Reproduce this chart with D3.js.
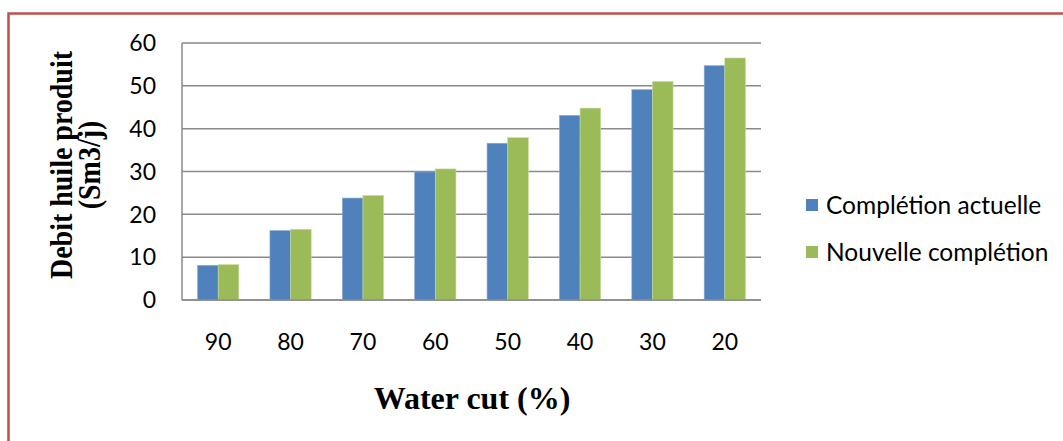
<!DOCTYPE html>
<html>
<head>
<meta charset="utf-8">
<script src="https://cdn.jsdelivr.net/npm/d3@7"></script>
<style>
  body { margin: 0; background: #fff; }
  svg { display: block; }
  .tick-label { font-family: Lato, "Open Sans", sans-serif; fill: #000; }
  .axis-title { font-family: "Liberation Serif", "Times New Roman", serif; font-weight: bold; fill: #000; }
</style>
</head>
<body>
<svg id="chart"></svg>
<script>
//Chart Data
const categories = ["90", "80", "70", "60", "50", "40", "30", "20"];
const seriesNames = ["Complétion actuelle", "Nouvelle complétion"];
const actuelle = [8.1, 16.2, 23.8, 29.9, 36.6, 43.1, 49.1, 54.7];
const nouvelle = [8.25, 16.5, 24.4, 30.6, 37.9, 44.8, 51.0, 56.5];
const yTicks = [0, 10, 20, 30, 40, 50, 60];
const yTitleLines = ["Debit huile produit", "(Sm3/j)"];

drawChart();

function drawChart(){
  const w = 1063;
  const h = 441;
  const left = 182, right = 761, top = 43, bottom = 300;
  const colors = ["#4f81bd", "#9bbb59"];

  const chart = d3.select("#chart")
    .attr("width", w)
    .attr("height", h);

  //Frame border
  chart.append("rect")
    .attr("x", 8.5).attr("y", 13.5)
    .attr("width", w + 20).attr("height", h + 20)
    .attr("fill", "none")
    .attr("stroke", "#c0504d")
    .attr("stroke-width", 2.5);

  //Scales
  const xScale = d3.scaleBand()
    .domain(categories)
    .range([left, right])
    .paddingInner(0.43)
    .paddingOuter(0.215);
  const xSub = d3.scaleBand()
    .domain([0, 1])
    .range([0, xScale.bandwidth()]);
  const yScale = d3.scaleLinear()
    .domain([0, 60])
    .range([bottom, top]);

  //Gridlines
  chart.append("g")
    .selectAll("line")
    .data(yTicks)
    .enter()
    .append("line")
    .attr("x1", left).attr("x2", right)
    .attr("y1", d => yScale(d)).attr("y2", d => yScale(d))
    .attr("stroke", "#8a8a8a")
    .attr("stroke-width", 1.5);

  //Bars
  const series = [actuelle, nouvelle];
  series.forEach((vals, s) => {
    chart.append("g")
      .selectAll("rect")
      .data(vals)
      .enter()
      .append("rect")
      .attr("x", (d, i) => xScale(categories[i]) + xSub(s))
      .attr("y", d => yScale(d))
      .attr("width", xSub.bandwidth())
      .attr("height", d => yScale(0) - yScale(d))
      .attr("fill", colors[s])
      .attr("stroke", s === 0 ? "#8eaad6" : "#c6db9c")
      .attr("stroke-width", 0.6);
  });

  //Axis lines
  chart.append("line")
    .attr("x1", left).attr("x2", left)
    .attr("y1", top).attr("y2", bottom)
    .attr("stroke", "#8a8a8a").attr("stroke-width", 1.5);
  chart.append("line")
    .attr("x1", left).attr("x2", right)
    .attr("y1", bottom).attr("y2", bottom)
    .attr("stroke", "#8a8a8a").attr("stroke-width", 1.5);

  //Tick labels
  chart.append("g")
    .selectAll("text")
    .data(yTicks)
    .enter()
    .append("text")
    .classed("tick-label", true)
    .attr("x", 156)
    .attr("y", d => yScale(d))
    .attr("dy", "0.36em")
    .attr("text-anchor", "end")
    .style("font-size", "23px")
    .text(d => d);

  chart.append("g")
    .selectAll("text")
    .data(categories)
    .enter()
    .append("text")
    .classed("tick-label", true)
    .attr("x", d => xScale(d) + xScale.bandwidth() / 2)
    .attr("y", 342)
    .attr("dy", "0.36em")
    .attr("text-anchor", "middle")
    .style("font-size", "23px")
    .text(d => d);

  //Axis titles (y title glyphs a bit stretched, like the reference)
  chart.append("g")
    .selectAll("text")
    .data(yTitleLines)
    .enter()
    .append("text")
    .classed("axis-title", true)
    .attr("transform", (d, i) => "translate(" + (72 + i * 28) + ", 165) rotate(-90) scale(1, 1.15)")
    .attr("text-anchor", "middle")
    .style("font-size", "28px")
    .text(d => d);

  chart.append("text")
    .classed("axis-title", true)
    .attr("x", 472)
    .attr("y", 398)
    .attr("dy", "0.35em")
    .attr("text-anchor", "middle")
    .style("font-size", "32px")
    .text("Water cut (%)");

  //Legend
  const legend = chart.append("g")
    .selectAll("g")
    .data(seriesNames)
    .enter()
    .append("g")
    .attr("transform", (d, i) => "translate(806, " + (205 + i * 47) + ")");
  legend.append("rect")
    .attr("x", 0).attr("y", -6)
    .attr("width", 12).attr("height", 12)
    .attr("fill", (d, i) => colors[i]);
  legend.append("text")
    .classed("tick-label", true)
    .attr("x", 20)
    .attr("dy", "0.36em")
    .style("font-size", "24.5px")
    .text(d => d);
}
</script>
</body>
</html>
